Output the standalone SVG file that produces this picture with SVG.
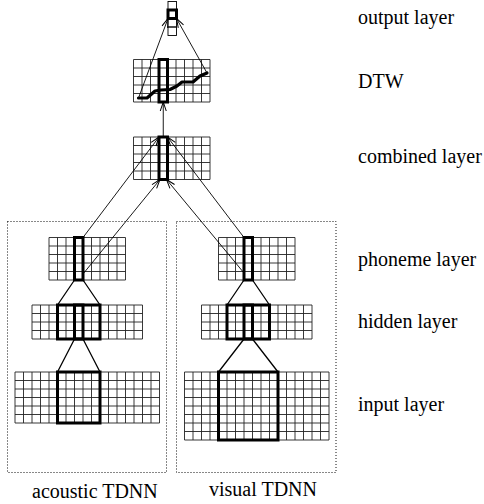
<svg xmlns="http://www.w3.org/2000/svg" xmlns:xlink="http://www.w3.org/1999/xlink" width="484" height="504" viewBox="0 0 484 504">
<style>
.grid{fill:none;stroke:#222;stroke-width:0.9}
.thick{fill:none;stroke:#000;stroke-width:3}
.thin{fill:none;stroke:#000;stroke-width:0.9}
.link{fill:none;stroke:#000;stroke-width:1.3}
.arrow{fill:none;stroke:#000;stroke-width:0.9;marker-end:url(#arr)}
.box{fill:none;stroke:#111;stroke-width:1;stroke-dasharray:1 2}
.lbl{font-family:"Liberation Serif","Times New Roman",serif;font-size:20px;fill:#000}
.dtw{fill:none;stroke:#000;stroke-width:3.2;stroke-linejoin:round;stroke-linecap:round}
</style>
<defs>
<marker id="arr" markerUnits="userSpaceOnUse" markerWidth="12" markerHeight="8" viewBox="-10 -4 12 8" refX="0" refY="0" orient="auto" overflow="visible">
<path d="M-9,-3 L0,0 L-9,3" fill="none" stroke="#000" stroke-width="1"/>
</marker>
<path id="g9x5" d="M0,0V42.5M8.5,0V42.5M17,0V42.5M25.5,0V42.5M34,0V42.5M42.5,0V42.5M51,0V42.5M59.5,0V42.5M68,0V42.5M76.5,0V42.5M0,0H76.5M0,8.5H76.5M0,17H76.5M0,25.5H76.5M0,34H76.5M0,42.5H76.5"/>
<path id="g13x4" d="M0,0V34M8.5,0V34M17,0V34M25.5,0V34M34,0V34M42.5,0V34M51,0V34M59.5,0V34M68,0V34M76.5,0V34M85,0V34M93.5,0V34M102,0V34M110.5,0V34M0,0H110.5M0,8.5H110.5M0,17H110.5M0,25.5H110.5M0,34H110.5"/>
<path id="g17x6" d="M0,0V51M8.5,0V51M17,0V51M25.5,0V51M34,0V51M42.5,0V51M51,0V51M59.5,0V51M68,0V51M76.5,0V51M85,0V51M93.5,0V51M102,0V51M110.5,0V51M119,0V51M127.5,0V51M136,0V51M144.5,0V51M0,0H144.5M0,8.5H144.5M0,17H144.5M0,25.5H144.5M0,34H144.5M0,42.5H144.5M0,51H144.5"/>
<path id="g17x8" d="M0,0V68M8.5,0V68M17,0V68M25.5,0V68M34,0V68M42.5,0V68M51,0V68M59.5,0V68M68,0V68M76.5,0V68M85,0V68M93.5,0V68M102,0V68M110.5,0V68M119,0V68M127.5,0V68M136,0V68M144.5,0V68M0,0H144.5M0,8.5H144.5M0,17H144.5M0,25.5H144.5M0,34H144.5M0,42.5H144.5M0,51H144.5M0,59.5H144.5M0,68H144.5"/>
</defs>

<g id="acoustic-box"><rect class="box" x="7.5" y="221.5" width="159" height="251"/></g>
<g id="visual-box"><rect class="box" x="176.5" y="221.5" width="159.5" height="251"/></g>

<g id="output-layer">
<rect class="thin" x="168" y="1.5" width="8.5" height="8.5"/>
<rect class="thin" x="168" y="18.5" width="8.5" height="8.5"/>
<rect class="thin" x="168" y="27" width="8.5" height="8.5"/>
<rect class="thick" x="168" y="10" width="8.5" height="8.5"/>
</g>

<g id="dtw">
<use href="#g9x5" class="grid" transform="translate(133.5,59.5)"/>
<polyline class="dtw" points="138.5,98 147,98 155,91 161,90 170,89.5 177,86 182,82 193,82 200,76 207,73"/>
<rect class="thick" x="159" y="59.5" width="8.5" height="42.5"/>
</g>

<g id="combined-layer">
<use href="#g9x5" class="grid" transform="translate(133.5,137)"/>
<rect class="thick" x="159" y="137" width="8.5" height="42.5"/>
</g>

<g id="acoustic-phoneme">
<use href="#g9x5" class="grid" transform="translate(49,237.5)"/>
<rect class="thick" x="74.5" y="237.5" width="8.5" height="42.5"/>
</g>
<g id="acoustic-hidden">
<use href="#g13x4" class="grid" transform="translate(32,305)"/>
<rect class="thick" x="57.5" y="305" width="42.5" height="34"/>
<rect class="thick" x="74.5" y="305" width="8.5" height="34"/>
</g>
<g id="acoustic-input">
<use href="#g17x6" class="grid" transform="translate(15,372)"/>
<rect class="thick" x="57.5" y="372" width="42.5" height="51"/>
</g>

<g id="visual-phoneme">
<use href="#g9x5" class="grid" transform="translate(218.5,237.5)"/>
<rect class="thick" x="244" y="237.5" width="8.5" height="42.5"/>
</g>
<g id="visual-hidden">
<use href="#g13x4" class="grid" transform="translate(201.5,305)"/>
<rect class="thick" x="227" y="305" width="42.5" height="34"/>
<rect class="thick" x="244" y="305" width="8.5" height="34"/>
</g>
<g id="visual-input">
<use href="#g17x8" class="grid" transform="translate(184.5,372)"/>
<rect class="thick" x="218.5" y="372" width="59.5" height="68"/>
</g>

<g id="connectors">
<path class="link" d="M74.5,280L57.5,305M83,280L100,305M74.5,339L57.5,372M83,339L100,372"/>
<path class="link" d="M244,280L227,305M252.5,280L269.5,305M244,339L218.5,372M252.5,339L278,372"/>
<path class="arrow" d="M83,237.5L159,137"/>
<path class="arrow" d="M83,274L160,179.5"/>
<path class="arrow" d="M244,237.5L167.5,137"/>
<path class="arrow" d="M244,273L166.5,179.5"/>
<path class="arrow" d="M163.25,137L163.25,102"/>
<path class="arrow" d="M138.5,98L168,18.5"/>
<path class="arrow" d="M207,73L176.5,18.5"/>
</g>

<g id="labels">
<text class="lbl" x="358" y="24">output layer</text>
<text class="lbl" x="358" y="88">DTW</text>
<text class="lbl" x="358" y="163">combined layer</text>
<text class="lbl" x="358" y="266">phoneme layer</text>
<text class="lbl" x="358" y="328">hidden layer</text>
<text class="lbl" x="358" y="411">input layer</text>
<text class="lbl" x="32" y="498">acoustic TDNN</text>
<text class="lbl" x="209" y="496">visual TDNN</text>
</g>
</svg>
